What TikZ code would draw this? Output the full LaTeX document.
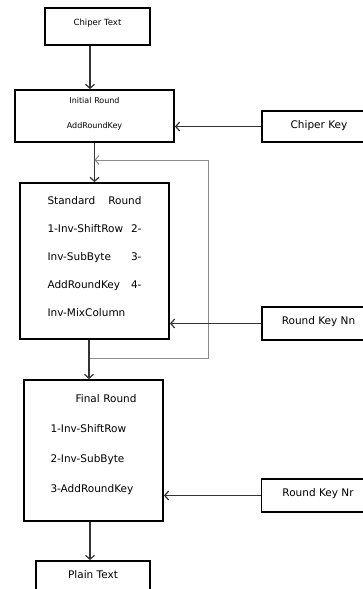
\documentclass[tikz,border=0pt]{standalone}
\usepackage{fontspec}
\setmainfont{DejaVu Sans}
\usetikzlibrary{arrows.meta}

\begin{document}
\begin{tikzpicture}[x=1pt,y=-1pt,
  box/.style={draw,line width=1.8pt,inner xsep=0pt,inner ysep=0pt,font=\fontsize{10.5}{28}\selectfont},
  arr/.style={draw=black!80,line width=1.2pt,-{Straight Barb[length=4pt,width=9pt]}},
  back/.style={draw=black!45,line width=1pt,-{Straight Barb[length=4pt,width=9pt]}}]
\clip (0,0) rectangle (363,589);
\node[box,minimum width=105pt,text height=17pt,text depth=20pt,font=\fontsize{8.5}{10}\selectfont] (ct) at (97.5,26.5) {Chiper Text};
\node[box,minimum width=159pt,text width=70pt,align=center,text height=13pt,text depth=39pt,font=\fontsize{8}{25}\selectfont] (ir) at (94.5,116) {Initial Round\\AddRoundKey};
\node[box,minimum width=114pt,text height=17pt,text depth=14pt] (ck) at (319,126.5) {Chiper Key};
\node[box,minimum width=149pt,text width=94pt,align=left,text height=21pt,text depth=135pt] (sr) at (94.5,261)
  {Standard\hfill Round\\1-Inv-ShiftRow\hfill 2-\\Inv-SubByte\hfill 3-\\AddRoundKey\hfill 4-\\Inv-MixColumn};
\node[box,minimum width=113pt,text height=17.5pt,text depth=15.5pt] (rkn) at (318.5,323.5) {Round Key Nn};
\node[box,minimum width=139pt,text width=86pt,align=left,text height=22pt,text depth=119pt,font=\fontsize{10.5}{30}\selectfont] (fr) at (93.5,450.5)
  {\hspace*{\fill}Final Round\hspace*{\fill}\\1-Inv-ShiftRow\\2-Inv-SubByte\\3-AddRoundKey};
\node[box,minimum width=113pt,text height=17.5pt,text depth=15.5pt] (rkr) at (318,495.5) {Round Key Nr};
\node[box,minimum width=114pt,text height=17pt,text depth=25pt] (pt) at (93,582) {Plain Text};
\coordinate (spine) at (90,0);
\coordinate (jn) at (89,358);
\coordinate (turn) at (208,160);
\draw[arr] (ct.south -| spine) -- (ir.north -| spine);
\draw[arr] (ck.west) -- (ck.west -| ir.east);
\draw[arr] (ir.south) -- (sr.north);
\draw[back] (jn) -| (turn) -- (turn -| ir.south);
\draw[arr] (sr.south -| jn) -- (fr.north -| jn);
\draw[arr] (rkn.west) -- (rkn.west -| sr.east);
\draw[arr] (rkr.west) -- (rkr.west -| fr.east);
\draw[arr] (fr.south -| spine) -- (pt.north -| spine);
\end{tikzpicture}
\end{document}
